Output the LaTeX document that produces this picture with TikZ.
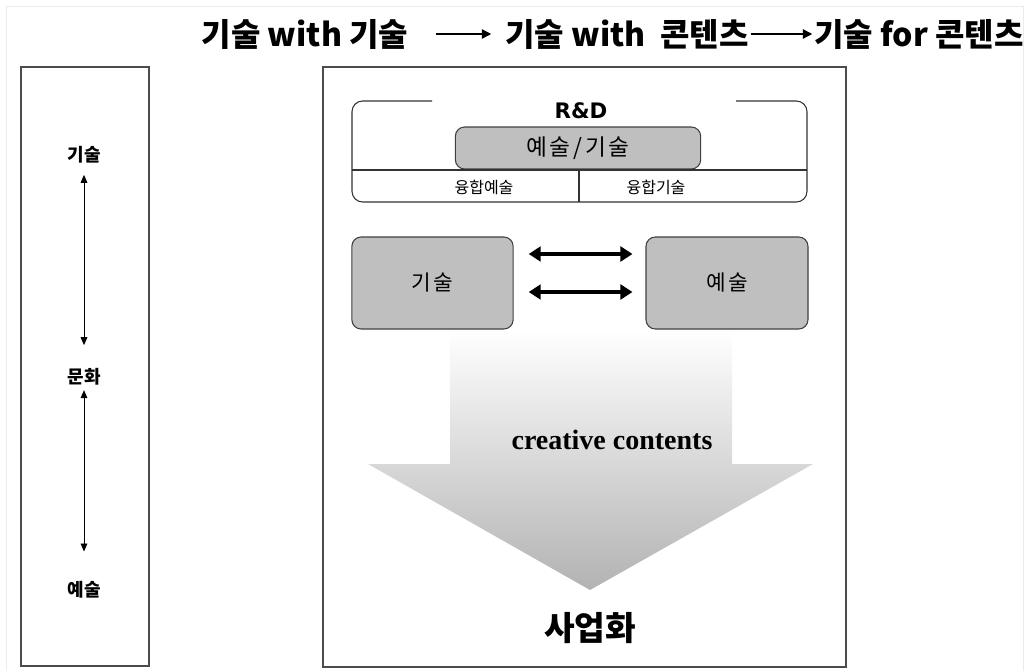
\documentclass[tikz,border=0pt]{standalone}
\usepackage{fontspec}
\setmainfont{Noto Sans CJK KR}
\newfontfamily\krspaced[LetterSpace=12]{Noto Sans CJK KR}
\newfontfamily\rdfont{DejaVu Sans}
\newfontfamily\cfont{Liberation Serif}
\usetikzlibrary{arrows.meta}
\usetikzlibrary{positioning}
\usetikzlibrary{calc}

\tikzset{frame/.style = {draw=black!70, line width=1.1pt}}
\tikzset{graybox/.style = {draw=black!75, fill=black!25, line width=0.8pt,
                           rounded corners=7pt}}
\tikzset{thin arrow/.style = {<->, line width=0.7pt,
                              >={Triangle[length=6pt, width=5pt]}}}
\tikzset{fat arrow/.style = {<->, line width=2.6pt,
                             >={Triangle[length=9pt, width=11pt]}}}
\tikzset{title arrow/.style = {->, line width=1pt,
                               >={Triangle[length=7pt, width=7pt]}}}

\begin{document}
\begin{tikzpicture}[x=0.75pt, y=-0.75pt]
  \useasboundingbox (0,0) rectangle (1027,671);
  \draw [black!8] (6,671) |- (1023,6) -- (1023,671);

  % heading
  \node (head1) at (305,34) {\fontsize{24pt}{26pt}\bfseries 기술 with 기술};
  \node (head2) at (627,34) {\fontsize{24pt}{26pt}\bfseries 기술 with \ 콘텐츠};
  \node (head3) at (919,34) {\fontsize{24pt}{26pt}\bfseries 기술 for 콘텐츠};
  \draw [title arrow, shorten <=17pt, shorten >=7pt] (head1) -- (head2);
  \draw [title arrow, shorten <=-2pt, shorten >=-2pt] (head2) -- (head3);

  % left column
  \draw [frame] (21,67) rectangle (149,666);
  \node (tech) at (84,155) {\fontsize{13.5pt}{15pt}\bfseries 기술};
  \node (cult) at (84,377) {\fontsize{13.5pt}{15pt}\bfseries 문화};
  \node (art)  at (84,590) {\fontsize{13.5pt}{15pt}\bfseries 예술};
  \draw [thin arrow, shorten <=5pt, shorten >=14pt] (tech) -- (cult);
  \draw [thin arrow, shorten <=0pt, shorten >=19pt] (cult) -- (art);

  % main column
  \draw [frame] (323,67) rectangle (846,667);

  \shade [top color=white, bottom color=black!30]
    (450,330) -- (732,330) -- (732,464) -- (813,464) -- (590,590)
    -- (368,464) -- (450,464) -- cycle;

  \draw [black!80, line width=0.8pt, rounded corners=8pt]
    (432,101) -- (352,101) -- (352,202) -- (807,202) -- (807,101) -- (736,101);
  \node (rd) at (581,111) {\rdfont\fontsize{16pt}{18pt}\bfseries R\&D};
  \node [graybox, minimum width=184pt, minimum height=31.5pt]
    (both) at (578,148) {\krspaced\fontsize{17pt}{19pt}\selectfont 예술/기술};
  \draw [black!80, line width=0.8pt] (352,170) -- (807,170);
  \draw [black!80, line width=0.8pt] (579,170) -- (579,202);
  \node (fusart)  at (484,187) {\fontsize{12pt}{14pt}\selectfont 융합예술};
  \node (fustech) at (656,187) {\fontsize{12pt}{14pt}\selectfont 융합기술};

  \node [graybox, minimum width=121pt, minimum height=69pt]
    (techbox) at (432.5,283) {\krspaced\fontsize{16pt}{18pt}\selectfont 기술};
  \node [graybox, minimum width=121.5pt, minimum height=69pt]
    (artbox) at (727,283) {\krspaced\fontsize{16pt}{18pt}\selectfont 예술};
  \draw [fat arrow] ($(techbox.east)+(15,-29)$) -- ($(artbox.west)+(-13,-29)$);
  \draw [fat arrow] ($(techbox.east)+(15,9)$) -- ($(artbox.west)+(-13,9)$);

  \node (cc) at (612,440) {\cfont\fontsize{21pt}{23pt}\bfseries creative contents};
  \node (biz) at (590,628) {\fontsize{25pt}{28pt}\bfseries 사업화};
\end{tikzpicture}
\end{document}
